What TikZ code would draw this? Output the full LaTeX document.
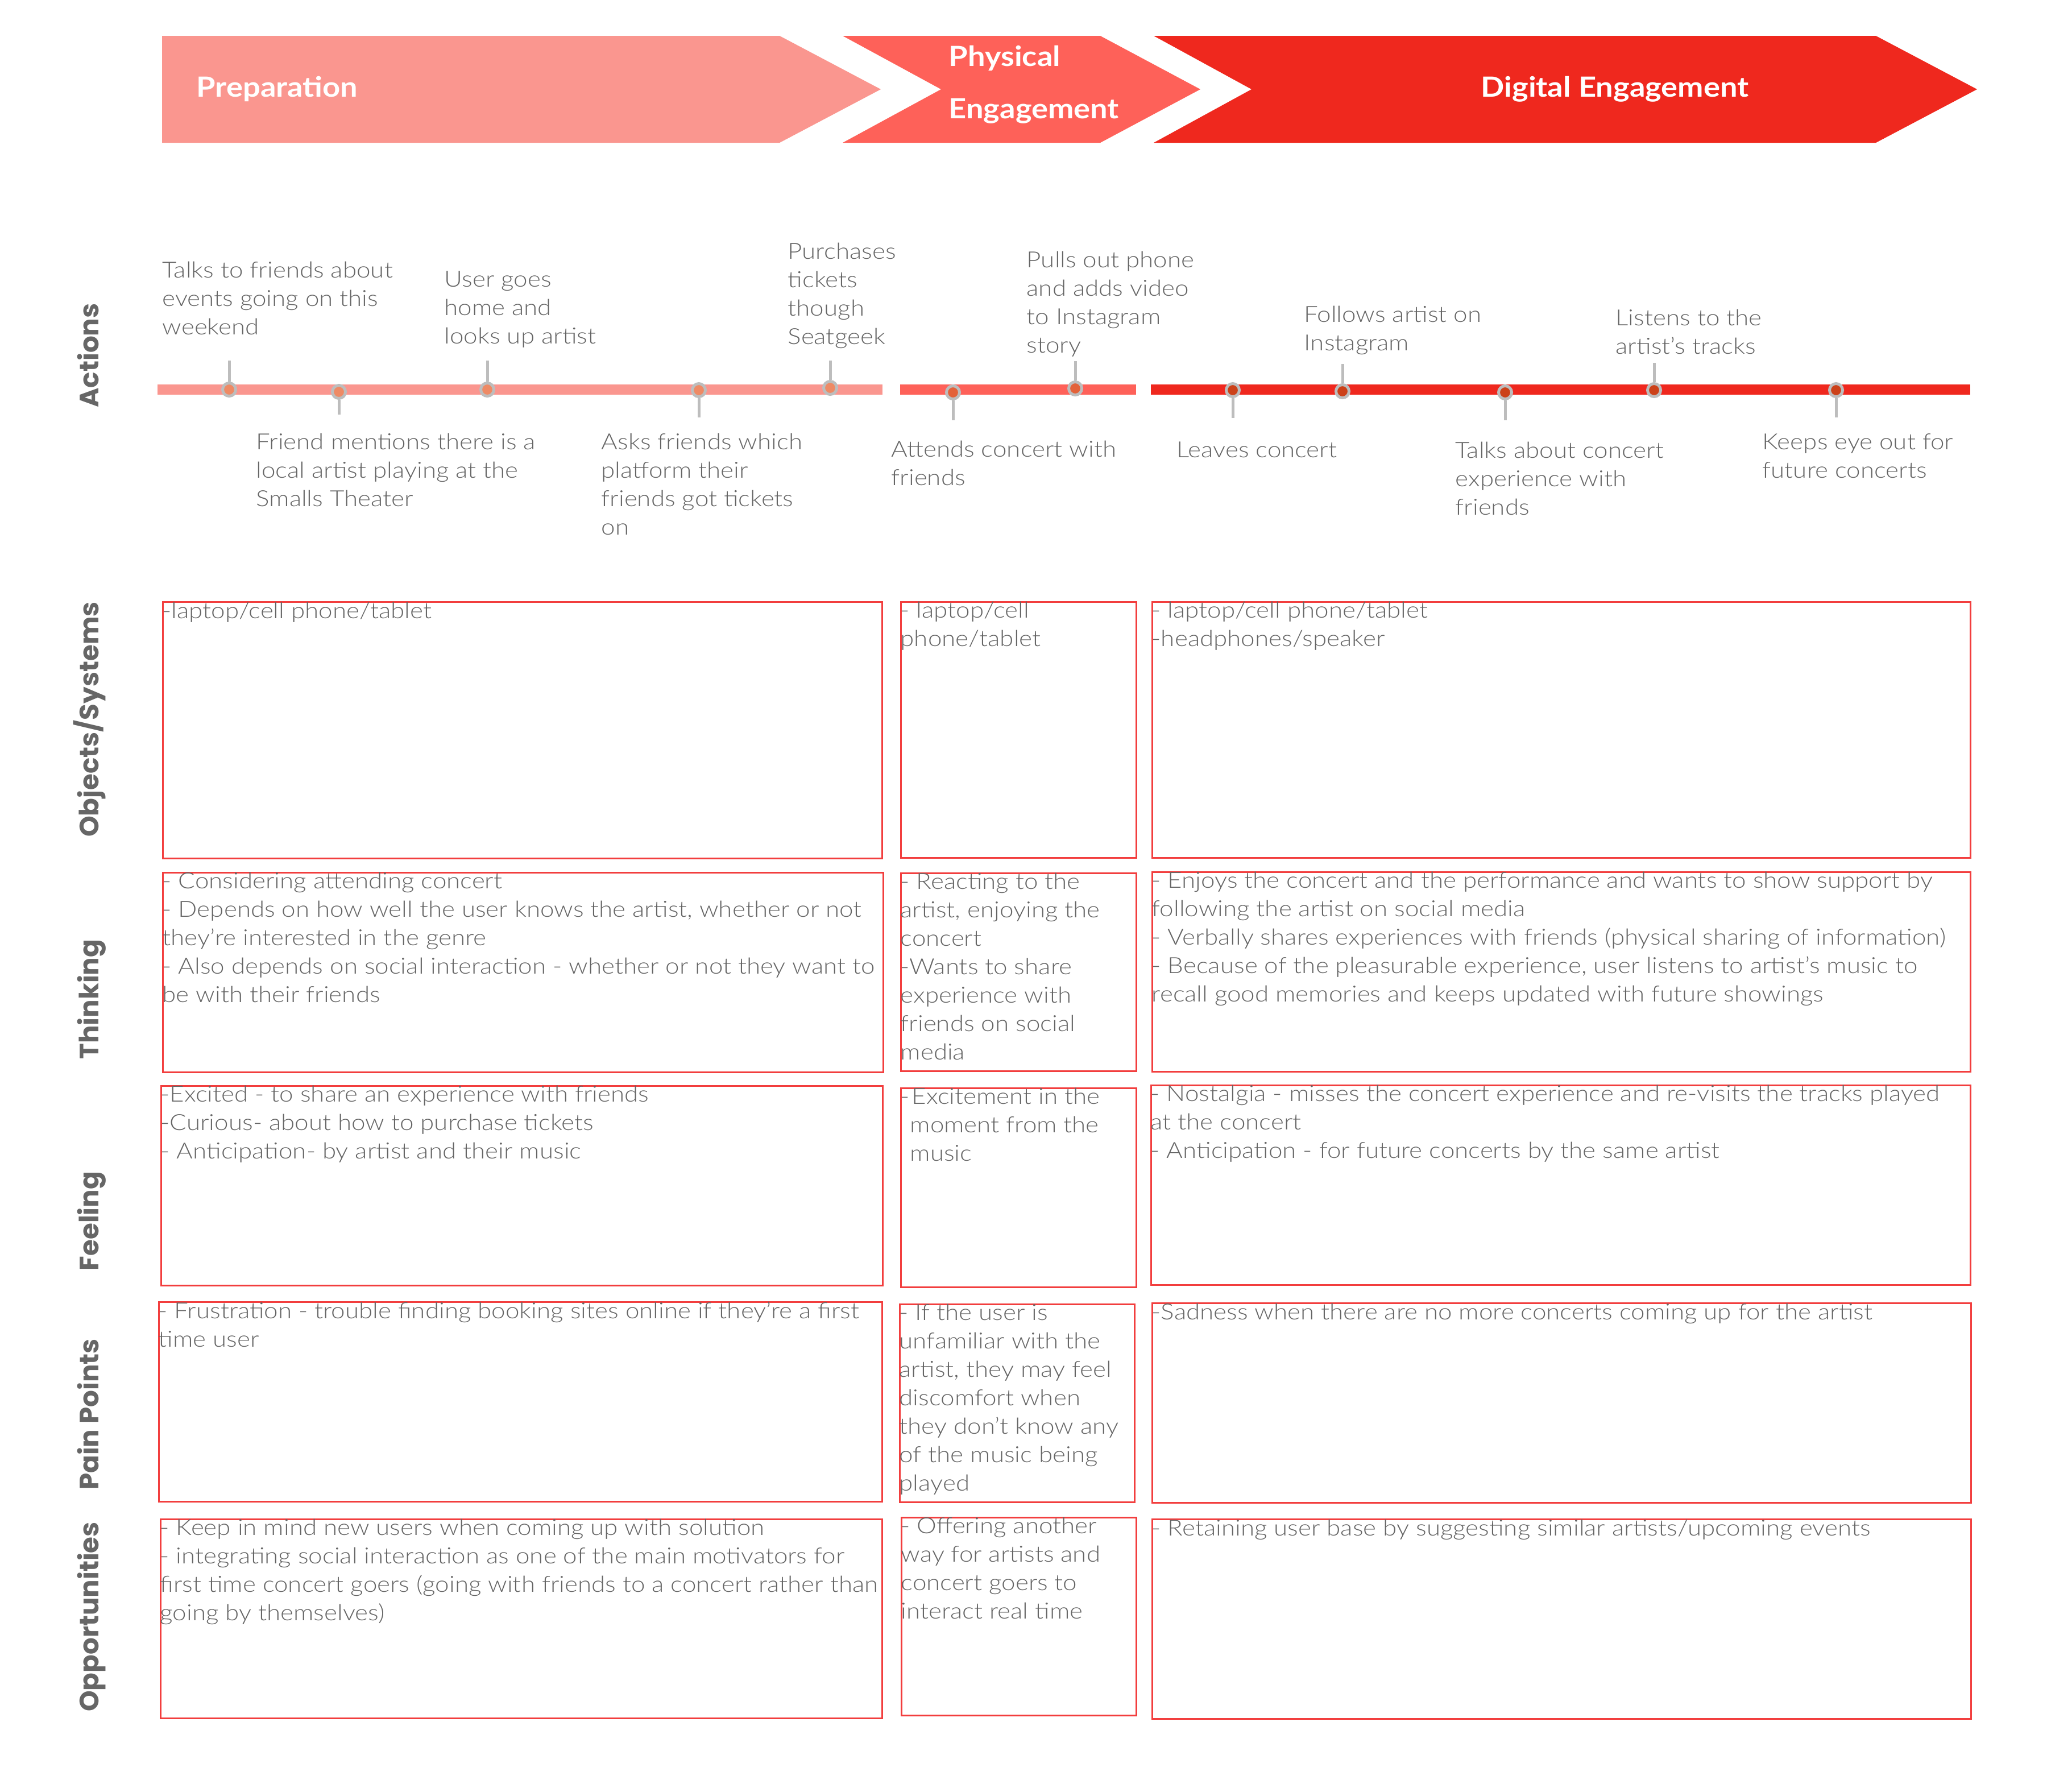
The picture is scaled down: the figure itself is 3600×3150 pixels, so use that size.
\documentclass[tikz,border=0pt]{standalone}
\usepackage{fontspec}
\newfontfamily\bodyfont{Lato Light}[FakeStretch=1.125]
\newfontfamily\headfont{Lato}[FakeStretch=1.11]
\newfontfamily\rowfont{Poppins}
\definecolor{phaseA}{HTML}{FA968F}
\definecolor{phaseB}{HTML}{FE6159}
\definecolor{phaseC}{HTML}{EF281E}
\definecolor{dotA}{HTML}{EE8A65}
\definecolor{dotB}{HTML}{E3623A}
\definecolor{dotC}{HTML}{CC4119}
\definecolor{stemgray}{HTML}{BDBDBD}
\definecolor{txtgray}{HTML}{656565}
\definecolor{rowgray}{HTML}{666666}
\definecolor{boxred}{HTML}{F23E3E}
\newcommand\tstrut{\rule{0pt}{0.30cm}}
\begin{document}
\begin{tikzpicture}[x=0.01cm,y=-0.01cm,
  headtxt/.style={text=white, font=\headfont\bfseries\fontsize{13.9pt}{16pt}\selectfont, anchor=base west, inner sep=0},
  rowlbl/.style={text=rowgray, font=\rowfont\bfseries\fontsize{13.3pt}{16pt}\selectfont, rotate=90, anchor=base, inner sep=0},
  celltext/.style={text=txtgray, font=\bodyfont\fontsize{11.1pt}{14.23pt}\selectfont, align=left, anchor=north west, inner sep=0, execute at begin node=\tstrut},
  cell/.style={draw=boxred, line width=0.03cm, anchor=north west, inner sep=0},
  stemline/.style={draw=stemgray, line width=0.05cm},
  tdot/.style={circle, draw=stemgray, line width=0.05cm, fill=#1, minimum size=0.23cm, inner sep=0}]
\useasboundingbox (0,0) rectangle (3600,3150);
\fill[white] (0,0) rectangle (3600,3150);

% phase chevrons
\fill[phaseA] (285,63) -- (1371,63) -- (1549,157) -- (1371,251) -- (285,251) -- cycle;
\fill[phaseB] (1482,63) -- (1935,63) -- (2111,157) -- (1935,251) -- (1482,251) -- (1655,157) -- cycle;
\fill[phaseC] (2029,63) -- (3299,63) -- (3477,157) -- (3299,251) -- (2029,251) -- (2201,157) -- cycle;
\node[headtxt] (hPrep) at (345,170) {Preparation};
\node[headtxt] (hPhys1) at (1668,116) {Physical};
\node[headtxt] (hPhys2) at (1668,208) {Engagement};
\node[headtxt] (hDig) at (2604,170) {Digital Engagement};

% row labels
\node[rowlbl] (rAct) at (173,625) {Actions};
\node[rowlbl] (rObj) at (173,1265) {Objects/Systems};
\node[rowlbl] (rThk) at (173,1757) {Thinking};
\node[rowlbl] (rFel) at (173,2147) {Feeling};
\node[rowlbl] (rPain) at (173,2487) {Pain Points};
\node[rowlbl] (rOpp) at (173,2843) {Opportunities};

% timeline bars
\fill[phaseA] (277,676) rectangle (1552,694);
\fill[phaseB] (1583,676) rectangle (1998,694);
\fill[phaseC] (2024,676) rectangle (3465,694);

% timeline markers and their stems
\coordinate (s1) at (403,634);
\coordinate (s2) at (596,729);
\coordinate (s3) at (857,634);
\coordinate (s4) at (1229,734);
\coordinate (s5) at (1460,634);
\coordinate (s6) at (1676,739);
\coordinate (s7) at (1891,635);
\coordinate (s8) at (2168,735);
\coordinate (s9) at (2361,640);
\coordinate (s10) at (2647,739);
\coordinate (s11) at (2909,638);
\coordinate (s12) at (3229,734);
\node[tdot=dotA] (p1) at (403,685) {};
\node[tdot=dotA] (p2) at (596,689) {};
\node[tdot=dotA] (p3) at (857,685) {};
\node[tdot=dotA] (p4) at (1229,686) {};
\node[tdot=dotA] (p5) at (1460,682) {};
\node[tdot=dotB] (p6) at (1676,690) {};
\node[tdot=dotB] (p7) at (1891,683) {};
\node[tdot=dotC] (p8) at (2168,686) {};
\node[tdot=dotC] (p9) at (2361,688) {};
\node[tdot=dotC] (p10) at (2647,690) {};
\node[tdot=dotC] (p11) at (2909,686) {};
\node[tdot=dotC] (p12) at (3229,686) {};
\draw[stemline] (p1.north) -- (s1);
\draw[stemline] (p2.south) -- (s2);
\draw[stemline] (p3.north) -- (s3);
\draw[stemline] (p4.south) -- (s4);
\draw[stemline] (p5.north) -- (s5);
\draw[stemline] (p6.south) -- (s6);
\draw[stemline] (p7.north) -- (s7);
\draw[stemline] (p8.south) -- (s8);
\draw[stemline] (p9.north) -- (s9);
\draw[stemline] (p10.south) -- (s10);
\draw[stemline] (p11.north) -- (s11);
\draw[stemline] (p12.south) -- (s12);

% action captions
\node[celltext] (a1) at (285,459) {Talks to friends about\\events going on this\\weekend};
\node[celltext] (a2) at (450,761) {Friend mentions there is a\\local artist playing at the\\Smalls Theater};
\node[celltext] (a3) at (781,476) {User goes\\home and\\looks up artist};
\node[celltext] (a4) at (1057,761) {Asks friends which\\platform their\\friends got tickets\\on};
\node[celltext] (a5) at (1385,426) {Purchases\\tickets\\though\\Seatgeek};
\node[celltext] (a6) at (1567,774) {Attends concert with\\friends};
\node[celltext] (a7) at (1805,441) {Pulls out phone\\and adds video\\to Instagram\\story};
\node[celltext] (a8) at (2069,774) {Leaves concert};
\node[celltext] (a9) at (2293,537) {Follows artist on\\Instagram};
\node[celltext] (a10) at (2559,776) {Talks about concert\\experience with\\friends};
\node[celltext] (a11) at (2841,543) {Listens to the\\artist’s tracks};
\node[celltext] (a12) at (3099,762) {Keeps eye out for\\future concerts};

% column 1: preparation
\node[cell, minimum width=12.64cm, minimum height=4.51cm] (o1) at (285,1057) {};
\node[cell, minimum width=12.66cm, minimum height=3.51cm] (t1) at (285,1533) {};
\node[cell, minimum width=12.68cm, minimum height=3.51cm] (f1) at (282,1908) {};
\node[cell, minimum width=12.71cm, minimum height=3.51cm] (q1) at (278,2288) {};
\node[cell, minimum width=12.68cm, minimum height=3.50cm] (u1) at (281,2670) {};
\node[celltext] (o1t) at (o1.north west) {-laptop/cell phone/tablet};
\node[celltext] (t1t) at (t1.north west) {- Considering attending concert\\- Depends on how well the user knows the artist, whether or not\\they’re interested in the genre\\- Also depends on social interaction - whether or not they want to\\be with their friends};
\node[celltext] (f1t) at (f1.north west) {-Excited - to share an experience with friends\\-Curious- about how to purchase tickets\\- Anticipation- by artist and their music};
\node[celltext] (q1t) at (q1.north west) {- Frustration - trouble finding booking sites online if they’re a first\\time user};
\node[celltext] (u1t) at (u1.north west) {- Keep in mind new users when coming up with solution\\- integrating social interaction as one of the main motivators for\\first time concert goers (going with friends to a concert rather than\\going by themselves)};

% column 2: physical engagement
\node[cell, minimum width=4.14cm, minimum height=4.50cm] (o2) at (1583,1057) {};
\node[cell, minimum width=4.14cm, minimum height=3.48cm] (t2) at (1583,1534) {};
\node[cell, minimum width=4.14cm, minimum height=3.50cm] (f2) at (1583,1912) {};
\node[cell, minimum width=4.13cm, minimum height=3.48cm] (q2) at (1581,2292) {};
\node[cell, minimum width=4.13cm, minimum height=3.48cm] (u2) at (1584,2667) {};
\node[celltext] (o2t) at (o2.north west) {- laptop/cell\\phone/tablet};
\node[celltext] (t2t) at (t2.north west) {- Reacting to the\\artist, enjoying the\\concert\\-Wants to share\\experience with\\friends on social\\media};
\node[celltext] (f2t) at (f2.north west) {-\hspace*{0.04cm}Excitement in the\\\hspace*{0.17cm}moment from the\\\hspace*{0.17cm}music};
\node[celltext] (q2t) at (q2.north west) {- If the user is\\unfamiliar with the\\artist, they may feel\\discomfort when\\they don’t know any\\of the music being\\played};
\node[celltext] (u2t) at (u2.north west) {- Offering another\\way for artists and\\concert goers to\\interact real time};

% column 3: digital engagement
\node[cell, minimum width=14.38cm, minimum height=4.50cm] (o3) at (2025,1057) {};
\node[cell, minimum width=14.38cm, minimum height=3.51cm] (t3) at (2025,1532) {};
\node[cell, minimum width=14.40cm, minimum height=3.51cm] (f3) at (2023,1907) {};
\node[cell, minimum width=14.39cm, minimum height=3.51cm] (q3) at (2025,2290) {};
\node[cell, minimum width=14.39cm, minimum height=3.51cm] (u3) at (2025,2670) {};
\node[celltext] (o3t) at (o3.north west) {- laptop/cell phone/tablet\\-headphones/speaker};
\node[celltext] (t3t) at (t3.north west) {- Enjoys the concert and the performance and wants to show support by\\following the artist on social media\\- Verbally shares experiences with friends (physical sharing of information)\\- Because of the pleasurable experience, user listens to artist’s music to\\recall good memories and keeps updated with future showings};
\node[celltext] (f3t) at (f3.north west) {- Nostalgia - misses the concert experience and re-visits the tracks played\\at the concert\\- Anticipation - for future concerts by the same artist};
\node[celltext] (q3t) at (q3.north west) {-Sadness when there are no more concerts coming up for the artist};
\node[celltext] (u3t) at (u3.north west) {- Retaining user base by suggesting similar artists/upcoming events};
\end{tikzpicture}
\end{document}
